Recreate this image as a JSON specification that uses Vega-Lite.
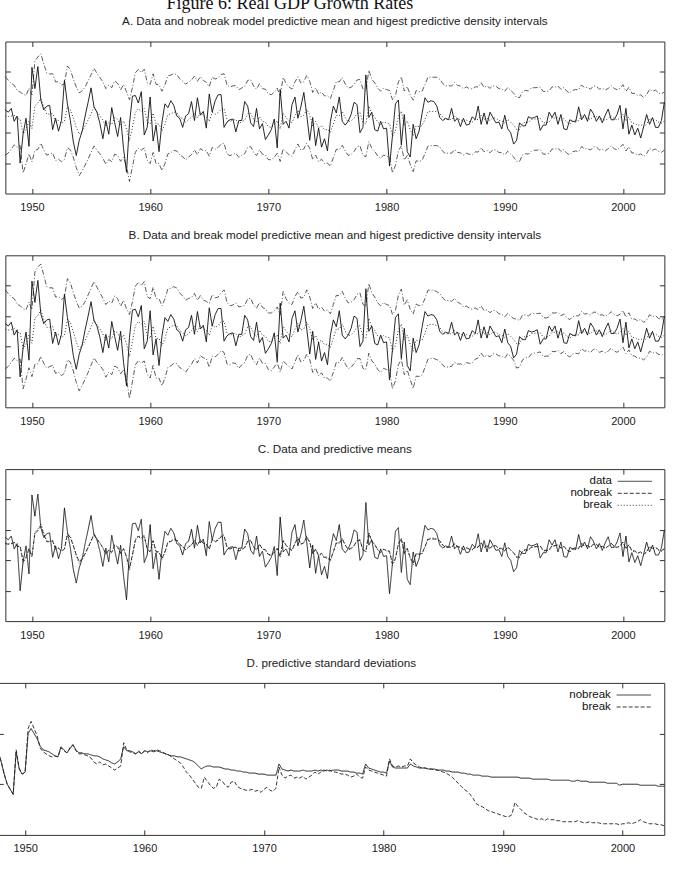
{
"$schema": "https://vega.github.io/schema/vega-lite/v6.json",
"padding": {"top": -5.5, "left": -5, "right": 0, "bottom": 0},
"title": {"text": "Figure 6: Real GDP Growth Rates", "font": "Liberation Serif", "fontSize": 18, "fontWeight": "normal", "color": "#111", "anchor": "middle", "dx": -45, "offset": -11.5, "baseline": "alphabetic"},
"config": {
  "font": "Liberation Sans",
  "view": {"stroke": "#333", "strokeWidth": 1},
  "title": {"fontSize": 11.7, "fontWeight": "normal", "color": "#222", "offset": 13, "baseline": "alphabetic", "font": "Liberation Sans"},
  "axis": {"domain": false, "grid": false, "tickSize": -5, "tickColor": "#333", "labelFontSize": 11, "labelColor": "#222", "labelPadding": 13, "title": null, "labelFont": "Liberation Sans", "minExtent": 0, "maxExtent": 0},
  "line": {"color": "#222", "strokeWidth": 0.9}
},
"columns": 1,
"center": true,
"spacing": 14.8,
"resolve": {"scale": {"strokeDash": "independent"}, "legend": {"strokeDash": "independent"}},
"datasets": {"gdp": [
{"t":1947.75,"data":1.5,"nobreak":1.1,"break":1.13,"nu":3.69,"nl":-1.49,"bu":3.72,"bl":-1.46,"sdn":1.32,"sdb":1.32},
{"t":1948,"data":1.35,"nobreak":1.06,"break":1.08,"nu":3.45,"nl":-1.33,"bu":3.47,"bl":-1.31,"sdn":1.22,"sdb":1.22},
{"t":1948.25,"data":1.6,"nobreak":1.09,"break":1.11,"nu":3.25,"nl":-1.07,"bu":3.27,"bl":-1.05,"sdn":1.1,"sdb":1.1},
{"t":1948.5,"data":0.75,"nobreak":1.16,"break":1.19,"nu":3.12,"nl":-0.8,"bu":3.15,"bl":-0.77,"sdn":1.0,"sdb":1.0},
{"t":1948.75,"data":1.1,"nobreak":0.91,"break":0.92,"nu":2.77,"nl":-0.95,"bu":2.78,"bl":-0.94,"sdn":0.95,"sdb":0.95},
{"t":1949,"data":-2.0,"nobreak":0.92,"break":0.93,"nu":2.68,"nl":-0.84,"bu":2.69,"bl":-0.83,"sdn":0.9,"sdb":0.9},
{"t":1949.25,"data":-0.1,"nobreak":-0.06,"break":-0.15,"nu":2.53,"nl":-2.65,"bu":2.48,"bl":-2.78,"sdn":1.32,"sdb":1.34},
{"t":1949.5,"data":0.95,"nobreak":0.2,"break":0.14,"nu":2.45,"nl":-2.05,"bu":2.41,"bl":-2.13,"sdn":1.15,"sdb":1.16},
{"t":1949.75,"data":-0.9,"nobreak":0.77,"break":0.76,"nu":2.93,"nl":-1.39,"bu":2.92,"bl":-1.4,"sdn":1.1,"sdb":1.1},
{"t":1950,"data":4.3,"nobreak":0.28,"break":0.22,"nu":2.48,"nl":-1.92,"bu":2.42,"bl":-1.98,"sdn":1.12,"sdb":1.12},
{"t":1950.25,"data":2.9,"nobreak":1.78,"break":1.87,"nu":4.72,"nl":-1.16,"bu":4.91,"bl":-1.17,"sdn":1.5,"sdb":1.55},
{"t":1950.5,"data":4.35,"nobreak":1.94,"break":2.05,"nu":4.98,"nl":-1.1,"bu":5.23,"bl":-1.13,"sdn":1.55,"sdb":1.62},
{"t":1950.75,"data":2.15,"nobreak":2.25,"break":2.39,"nu":5.19,"nl":-0.69,"bu":5.43,"bl":-0.65,"sdn":1.5,"sdb":1.55},
{"t":1951,"data":1.5,"nobreak":1.7,"break":1.79,"nu":4.54,"nl":-1.14,"bu":4.69,"bl":-1.11,"sdn":1.45,"sdb":1.48},
{"t":1951.25,"data":1.75,"nobreak":1.22,"break":1.26,"nu":3.92,"nl":-1.48,"bu":3.93,"bl":-1.41,"sdn":1.38,"sdb":1.36},
{"t":1951.5,"data":1.8,"nobreak":1.23,"break":1.27,"nu":3.86,"nl":-1.4,"bu":3.86,"bl":-1.32,"sdn":1.34,"sdb":1.32},
{"t":1951.75,"data":0.2,"nobreak":1.27,"break":1.31,"nu":3.88,"nl":-1.34,"bu":3.86,"bl":-1.24,"sdn":1.33,"sdb":1.3},
{"t":1952,"data":0.95,"nobreak":0.75,"break":0.74,"nu":3.34,"nl":-1.84,"bu":3.25,"bl":-1.77,"sdn":1.32,"sdb":1.28},
{"t":1952.25,"data":0.1,"nobreak":0.8,"break":0.8,"nu":3.35,"nl":-1.75,"bu":3.29,"bl":-1.69,"sdn":1.3,"sdb":1.27},
{"t":1952.5,"data":0.8,"nobreak":0.61,"break":0.59,"nu":3.12,"nl":-1.9,"bu":3.1,"bl":-1.92,"sdn":1.28,"sdb":1.28},
{"t":1952.75,"data":3.45,"nobreak":0.74,"break":0.73,"nu":3.23,"nl":-1.75,"bu":3.22,"bl":-1.76,"sdn":1.27,"sdb":1.27},
{"t":1953,"data":1.9,"nobreak":1.7,"break":1.79,"nu":4.39,"nl":-0.99,"bu":4.46,"bl":-0.88,"sdn":1.37,"sdb":1.36},
{"t":1953.25,"data":0.8,"nobreak":1.51,"break":1.58,"nu":4.14,"nl":-1.12,"bu":4.19,"bl":-1.03,"sdn":1.34,"sdb":1.33},
{"t":1953.5,"data":-0.6,"nobreak":0.96,"break":0.97,"nu":3.53,"nl":-1.61,"bu":3.54,"bl":-1.6,"sdn":1.31,"sdb":1.31},
{"t":1953.75,"data":-1.5,"nobreak":0.36,"break":0.31,"nu":3.01,"nl":-2.29,"bu":2.98,"bl":-2.36,"sdn":1.35,"sdb":1.36},
{"t":1954,"data":-0.5,"nobreak":-0.1,"break":-0.2,"nu":2.62,"nl":-2.82,"bu":2.52,"bl":-2.92,"sdn":1.39,"sdb":1.39},
{"t":1954.25,"data":0.1,"nobreak":0.12,"break":0.05,"nu":2.75,"nl":-2.51,"bu":2.66,"bl":-2.56,"sdn":1.34,"sdb":1.33},
{"t":1954.5,"data":1.1,"nobreak":0.44,"break":0.4,"nu":3.01,"nl":-2.13,"bu":2.95,"bl":-2.15,"sdn":1.31,"sdb":1.3},
{"t":1954.75,"data":2.0,"nobreak":0.84,"break":0.84,"nu":3.41,"nl":-1.73,"bu":3.39,"bl":-1.71,"sdn":1.31,"sdb":1.3},
{"t":1955,"data":2.95,"nobreak":1.26,"break":1.3,"nu":3.81,"nl":-1.29,"bu":3.83,"bl":-1.23,"sdn":1.3,"sdb":1.29},
{"t":1955.25,"data":1.7,"nobreak":1.68,"break":1.76,"nu":4.23,"nl":-0.87,"bu":4.27,"bl":-0.75,"sdn":1.3,"sdb":1.28},
{"t":1955.5,"data":1.35,"nobreak":1.38,"break":1.43,"nu":3.91,"nl":-1.15,"bu":3.9,"bl":-1.04,"sdn":1.29,"sdb":1.26},
{"t":1955.75,"data":0.6,"nobreak":1.12,"break":1.15,"nu":3.63,"nl":-1.39,"bu":3.54,"bl":-1.24,"sdn":1.28,"sdb":1.22},
{"t":1956,"data":-0.4,"nobreak":0.83,"break":0.83,"nu":3.34,"nl":-1.68,"bu":3.18,"bl":-1.52,"sdn":1.28,"sdb":1.2},
{"t":1956.25,"data":0.8,"nobreak":0.41,"break":0.37,"nu":2.9,"nl":-2.08,"bu":2.76,"bl":-2.02,"sdn":1.27,"sdb":1.22},
{"t":1956.5,"data":-0.1,"nobreak":0.68,"break":0.66,"nu":3.13,"nl":-1.77,"bu":2.99,"bl":-1.67,"sdn":1.25,"sdb":1.19},
{"t":1956.75,"data":1.65,"nobreak":0.53,"break":0.5,"nu":2.96,"nl":-1.9,"bu":2.85,"bl":-1.85,"sdn":1.24,"sdb":1.2},
{"t":1957,"data":0.65,"nobreak":1.0,"break":1.02,"nu":3.41,"nl":-1.41,"bu":3.33,"bl":-1.29,"sdn":1.23,"sdb":1.18},
{"t":1957.25,"data":-0.25,"nobreak":0.88,"break":0.88,"nu":3.25,"nl":-1.49,"bu":3.15,"bl":-1.39,"sdn":1.21,"sdb":1.16},
{"t":1957.5,"data":1.0,"nobreak":0.47,"break":0.43,"nu":2.82,"nl":-1.88,"bu":2.66,"bl":-1.8,"sdn":1.2,"sdb":1.14},
{"t":1957.75,"data":-1.05,"nobreak":0.77,"break":0.76,"nu":3.16,"nl":-1.62,"bu":3.03,"bl":-1.51,"sdn":1.22,"sdb":1.16},
{"t":1958,"data":-2.6,"nobreak":0.24,"break":0.18,"nu":2.69,"nl":-2.21,"bu":2.49,"bl":-2.13,"sdn":1.25,"sdb":1.18},
{"t":1958.25,"data":0.6,"nobreak":-0.52,"break":-0.66,"nu":2.17,"nl":-3.21,"bu":2.1,"bl":-3.42,"sdn":1.37,"sdb":1.41},
{"t":1958.5,"data":2.4,"nobreak":0.36,"break":0.31,"nu":2.97,"nl":-2.25,"bu":2.94,"bl":-2.32,"sdn":1.33,"sdb":1.34},
{"t":1958.75,"data":2.45,"nobreak":1.33,"break":1.38,"nu":3.94,"nl":-1.28,"bu":3.97,"bl":-1.21,"sdn":1.33,"sdb":1.32},
{"t":1959,"data":1.95,"nobreak":1.57,"break":1.64,"nu":4.16,"nl":-1.02,"bu":4.21,"bl":-0.93,"sdn":1.32,"sdb":1.31},
{"t":1959.25,"data":2.7,"nobreak":1.4,"break":1.46,"nu":3.95,"nl":-1.15,"bu":4.01,"bl":-1.09,"sdn":1.3,"sdb":1.3},
{"t":1959.5,"data":-0.15,"nobreak":1.59,"break":1.66,"nu":4.18,"nl":-1.0,"bu":4.27,"bl":-0.95,"sdn":1.32,"sdb":1.33},
{"t":1959.75,"data":0.35,"nobreak":0.74,"break":0.73,"nu":3.29,"nl":-1.81,"bu":3.28,"bl":-1.82,"sdn":1.3,"sdb":1.3},
{"t":1960,"data":2.35,"nobreak":0.57,"break":0.54,"nu":3.18,"nl":-2.04,"bu":3.15,"bl":-2.07,"sdn":1.33,"sdb":1.33},
{"t":1960.25,"data":-0.55,"nobreak":1.29,"break":1.33,"nu":3.88,"nl":-1.3,"bu":3.9,"bl":-1.24,"sdn":1.32,"sdb":1.31},
{"t":1960.5,"data":0.5,"nobreak":0.57,"break":0.54,"nu":3.18,"nl":-2.04,"bu":3.17,"bl":-2.09,"sdn":1.33,"sdb":1.34},
{"t":1960.75,"data":-1.25,"nobreak":0.56,"break":0.53,"nu":3.15,"nl":-2.03,"bu":3.14,"bl":-2.08,"sdn":1.32,"sdb":1.33},
{"t":1961,"data":0.7,"nobreak":0.12,"break":0.05,"nu":2.73,"nl":-2.49,"bu":2.68,"bl":-2.58,"sdn":1.33,"sdb":1.34},
{"t":1961.25,"data":1.9,"nobreak":0.55,"break":0.52,"nu":3.14,"nl":-2.04,"bu":3.13,"bl":-2.09,"sdn":1.32,"sdb":1.33},
{"t":1961.5,"data":1.65,"nobreak":1.18,"break":1.21,"nu":3.75,"nl":-1.39,"bu":3.8,"bl":-1.38,"sdn":1.31,"sdb":1.32},
{"t":1961.75,"data":2.1,"nobreak":1.24,"break":1.28,"nu":3.79,"nl":-1.31,"bu":3.83,"bl":-1.27,"sdn":1.3,"sdb":1.3},
{"t":1962,"data":1.8,"nobreak":1.36,"break":1.41,"nu":3.89,"nl":-1.17,"bu":3.94,"bl":-1.12,"sdn":1.29,"sdb":1.29},
{"t":1962.25,"data":1.1,"nobreak":1.31,"break":1.36,"nu":3.82,"nl":-1.2,"bu":3.85,"bl":-1.13,"sdn":1.28,"sdb":1.27},
{"t":1962.5,"data":0.95,"nobreak":1.04,"break":1.06,"nu":3.55,"nl":-1.47,"bu":3.51,"bl":-1.39,"sdn":1.28,"sdb":1.25},
{"t":1962.75,"data":0.35,"nobreak":0.91,"break":0.92,"nu":3.4,"nl":-1.58,"bu":3.33,"bl":-1.49,"sdn":1.27,"sdb":1.23},
{"t":1963,"data":1.1,"nobreak":0.7,"break":0.68,"nu":3.19,"nl":-1.79,"bu":3.05,"bl":-1.69,"sdn":1.27,"sdb":1.21},
{"t":1963.25,"data":1.25,"nobreak":0.87,"break":0.87,"nu":3.34,"nl":-1.6,"bu":3.16,"bl":-1.42,"sdn":1.26,"sdb":1.17},
{"t":1963.5,"data":2.05,"nobreak":1.01,"break":1.03,"nu":3.46,"nl":-1.44,"bu":3.23,"bl":-1.17,"sdn":1.25,"sdb":1.12},
{"t":1963.75,"data":0.8,"nobreak":1.3,"break":1.35,"nu":3.73,"nl":-1.13,"bu":3.49,"bl":-0.79,"sdn":1.24,"sdb":1.09},
{"t":1964,"data":2.3,"nobreak":0.97,"break":0.98,"nu":3.38,"nl":-1.44,"bu":3.04,"bl":-1.08,"sdn":1.23,"sdb":1.05},
{"t":1964.25,"data":1.15,"nobreak":1.32,"break":1.37,"nu":3.69,"nl":-1.05,"bu":3.35,"bl":-0.61,"sdn":1.21,"sdb":1.01},
{"t":1964.5,"data":1.4,"nobreak":1.12,"break":1.15,"nu":3.43,"nl":-1.19,"bu":3.05,"bl":-0.75,"sdn":1.18,"sdb":0.97},
{"t":1964.75,"data":0.3,"nobreak":1.07,"break":1.09,"nu":3.32,"nl":-1.18,"bu":2.97,"bl":-0.79,"sdn":1.15,"sdb":0.96},
{"t":1965,"data":2.55,"nobreak":0.74,"break":0.73,"nu":3.03,"nl":-1.55,"bu":2.83,"bl":-1.37,"sdn":1.17,"sdb":1.07},
{"t":1965.25,"data":1.35,"nobreak":1.34,"break":1.39,"nu":3.65,"nl":-0.97,"bu":3.41,"bl":-0.63,"sdn":1.18,"sdb":1.03},
{"t":1965.5,"data":2.1,"nobreak":1.22,"break":1.26,"nu":3.53,"nl":-1.09,"bu":3.2,"bl":-0.68,"sdn":1.18,"sdb":0.99},
{"t":1965.75,"data":2.5,"nobreak":1.32,"break":1.37,"nu":3.61,"nl":-0.97,"bu":3.25,"bl":-0.51,"sdn":1.17,"sdb":0.96},
{"t":1966,"data":2.5,"nobreak":1.54,"break":1.62,"nu":3.83,"nl":-0.75,"bu":3.52,"bl":-0.28,"sdn":1.17,"sdb":0.97},
{"t":1966.25,"data":0.35,"nobreak":1.59,"break":1.67,"nu":3.88,"nl":-0.7,"bu":3.73,"bl":-0.39,"sdn":1.17,"sdb":1.05},
{"t":1966.5,"data":0.7,"nobreak":0.88,"break":0.88,"nu":3.15,"nl":-1.39,"bu":2.9,"bl":-1.14,"sdn":1.16,"sdb":1.03},
{"t":1966.75,"data":0.85,"nobreak":0.74,"break":0.73,"nu":2.99,"nl":-1.51,"bu":2.67,"bl":-1.21,"sdn":1.15,"sdb":0.99},
{"t":1967,"data":0.9,"nobreak":0.83,"break":0.83,"nu":3.08,"nl":-1.42,"bu":2.73,"bl":-1.07,"sdn":1.15,"sdb":0.97},
{"t":1967.25,"data":0.05,"nobreak":0.87,"break":0.87,"nu":3.1,"nl":-1.36,"bu":2.87,"bl":-1.13,"sdn":1.14,"sdb":1.02},
{"t":1967.5,"data":0.8,"nobreak":0.6,"break":0.58,"nu":2.83,"nl":-1.63,"bu":2.6,"bl":-1.44,"sdn":1.14,"sdb":1.03},
{"t":1967.75,"data":0.8,"nobreak":0.73,"break":0.72,"nu":2.94,"nl":-1.48,"bu":2.64,"bl":-1.2,"sdn":1.13,"sdb":0.98},
{"t":1968,"data":2.05,"nobreak":0.83,"break":0.83,"nu":3.04,"nl":-1.38,"bu":2.71,"bl":-1.05,"sdn":1.13,"sdb":0.96},
{"t":1968.25,"data":1.75,"nobreak":1.24,"break":1.28,"nu":3.44,"nl":-0.96,"bu":3.14,"bl":-0.58,"sdn":1.12,"sdb":0.95},
{"t":1968.5,"data":0.65,"nobreak":1.29,"break":1.33,"nu":3.49,"nl":-0.91,"bu":3.17,"bl":-0.51,"sdn":1.12,"sdb":0.94},
{"t":1968.75,"data":0.4,"nobreak":0.89,"break":0.89,"nu":3.07,"nl":-1.29,"bu":2.73,"bl":-0.95,"sdn":1.11,"sdb":0.94},
{"t":1969,"data":1.6,"nobreak":0.68,"break":0.66,"nu":2.86,"nl":-1.5,"bu":2.52,"bl":-1.2,"sdn":1.11,"sdb":0.95},
{"t":1969.25,"data":0.25,"nobreak":1.05,"break":1.07,"nu":3.23,"nl":-1.13,"bu":2.89,"bl":-0.75,"sdn":1.11,"sdb":0.93},
{"t":1969.5,"data":0.6,"nobreak":0.74,"break":0.73,"nu":2.9,"nl":-1.42,"bu":2.57,"bl":-1.11,"sdn":1.1,"sdb":0.94},
{"t":1969.75,"data":-0.45,"nobreak":0.7,"break":0.68,"nu":2.86,"nl":-1.46,"bu":2.48,"bl":-1.12,"sdn":1.1,"sdb":0.92},
{"t":1970,"data":-0.15,"nobreak":0.39,"break":0.34,"nu":2.55,"nl":-1.77,"bu":2.2,"bl":-1.52,"sdn":1.1,"sdb":0.95},
{"t":1970.25,"data":0.2,"nobreak":0.36,"break":0.31,"nu":2.5,"nl":-1.78,"bu":2.21,"bl":-1.59,"sdn":1.09,"sdb":0.97},
{"t":1970.5,"data":0.9,"nobreak":0.52,"break":0.49,"nu":2.66,"nl":-1.62,"bu":2.33,"bl":-1.35,"sdn":1.09,"sdb":0.94},
{"t":1970.75,"data":-1.0,"nobreak":0.79,"break":0.78,"nu":2.93,"nl":-1.35,"bu":2.6,"bl":-1.04,"sdn":1.09,"sdb":0.93},
{"t":1971,"data":2.85,"nobreak":0.25,"break":0.19,"nu":2.39,"nl":-1.89,"bu":2.07,"bl":-1.69,"sdn":1.09,"sdb":0.96},
{"t":1971.25,"data":0.55,"nobreak":1.29,"break":1.33,"nu":3.64,"nl":-1.06,"bu":3.62,"bl":-0.96,"sdn":1.2,"sdb":1.17},
{"t":1971.5,"data":0.75,"nobreak":0.99,"break":1.0,"nu":3.24,"nl":-1.26,"bu":3.14,"bl":-1.14,"sdn":1.15,"sdb":1.09},
{"t":1971.75,"data":0.3,"nobreak":0.78,"break":0.77,"nu":3.01,"nl":-1.45,"bu":2.85,"bl":-1.31,"sdn":1.14,"sdb":1.06},
{"t":1972,"data":1.85,"nobreak":0.66,"break":0.64,"nu":2.87,"nl":-1.55,"bu":2.76,"bl":-1.48,"sdn":1.13,"sdb":1.08},
{"t":1972.25,"data":2.35,"nobreak":1.11,"break":1.14,"nu":3.34,"nl":-1.12,"bu":3.28,"bl":-1.0,"sdn":1.14,"sdb":1.09},
{"t":1972.5,"data":0.95,"nobreak":1.47,"break":1.53,"nu":3.68,"nl":-0.74,"bu":3.61,"bl":-0.55,"sdn":1.13,"sdb":1.06},
{"t":1972.75,"data":1.7,"nobreak":1.06,"break":1.08,"nu":3.27,"nl":-1.15,"bu":3.18,"bl":-1.02,"sdn":1.13,"sdb":1.07},
{"t":1973,"data":2.65,"nobreak":1.14,"break":1.17,"nu":3.35,"nl":-1.07,"bu":3.25,"bl":-0.91,"sdn":1.13,"sdb":1.06},
{"t":1973.25,"data":1.15,"nobreak":1.54,"break":1.61,"nu":3.77,"nl":-0.69,"bu":3.73,"bl":-0.51,"sdn":1.14,"sdb":1.08},
{"t":1973.5,"data":-0.5,"nobreak":1.17,"break":1.2,"nu":3.38,"nl":-1.04,"bu":3.26,"bl":-0.86,"sdn":1.13,"sdb":1.05},
{"t":1973.75,"data":1.0,"nobreak":0.44,"break":0.4,"nu":2.65,"nl":-1.77,"bu":2.5,"bl":-1.7,"sdn":1.13,"sdb":1.07},
{"t":1974,"data":-0.85,"nobreak":0.74,"break":0.73,"nu":2.95,"nl":-1.47,"bu":2.87,"bl":-1.41,"sdn":1.13,"sdb":1.09},
{"t":1974.25,"data":0.3,"nobreak":0.31,"break":0.26,"nu":2.54,"nl":-1.92,"bu":2.46,"bl":-1.94,"sdn":1.14,"sdb":1.12},
{"t":1974.5,"data":-0.95,"nobreak":0.47,"break":0.43,"nu":2.68,"nl":-1.74,"bu":2.59,"bl":-1.73,"sdn":1.13,"sdb":1.1},
{"t":1974.75,"data":-0.4,"nobreak":0.19,"break":0.12,"nu":2.42,"nl":-2.04,"bu":2.32,"bl":-2.08,"sdn":1.14,"sdb":1.12},
{"t":1975,"data":-1.2,"nobreak":0.22,"break":0.16,"nu":2.43,"nl":-1.99,"bu":2.39,"bl":-2.07,"sdn":1.13,"sdb":1.14},
{"t":1975.25,"data":0.75,"nobreak":0.02,"break":-0.06,"nu":2.25,"nl":-2.21,"bu":2.15,"bl":-2.27,"sdn":1.14,"sdb":1.13},
{"t":1975.5,"data":1.75,"nobreak":0.57,"break":0.54,"nu":2.78,"nl":-1.64,"bu":2.77,"bl":-1.69,"sdn":1.13,"sdb":1.14},
{"t":1975.75,"data":1.3,"nobreak":1.14,"break":1.17,"nu":3.37,"nl":-1.09,"bu":3.37,"bl":-1.03,"sdn":1.14,"sdb":1.12},
{"t":1976,"data":2.35,"nobreak":1.11,"break":1.14,"nu":3.34,"nl":-1.12,"bu":3.34,"bl":-1.06,"sdn":1.14,"sdb":1.12},
{"t":1976.25,"data":0.75,"nobreak":1.4,"break":1.46,"nu":3.63,"nl":-0.83,"bu":3.64,"bl":-0.72,"sdn":1.14,"sdb":1.11},
{"t":1976.5,"data":0.5,"nobreak":1.0,"break":1.02,"nu":3.21,"nl":-1.21,"bu":3.18,"bl":-1.14,"sdn":1.13,"sdb":1.1},
{"t":1976.75,"data":0.75,"nobreak":0.72,"break":0.71,"nu":2.93,"nl":-1.49,"bu":2.87,"bl":-1.45,"sdn":1.13,"sdb":1.1},
{"t":1977,"data":1.2,"nobreak":0.78,"break":0.77,"nu":2.99,"nl":-1.43,"bu":2.91,"bl":-1.37,"sdn":1.13,"sdb":1.09},
{"t":1977.25,"data":2.0,"nobreak":0.96,"break":0.97,"nu":3.16,"nl":-1.24,"bu":3.07,"bl":-1.13,"sdn":1.12,"sdb":1.07},
{"t":1977.5,"data":1.85,"nobreak":1.27,"break":1.31,"nu":3.47,"nl":-0.93,"bu":3.43,"bl":-0.81,"sdn":1.12,"sdb":1.08},
{"t":1977.75,"data":0.0,"nobreak":1.32,"break":1.37,"nu":3.5,"nl":-0.86,"bu":3.53,"bl":-0.79,"sdn":1.11,"sdb":1.1},
{"t":1978,"data":0.35,"nobreak":0.69,"break":0.67,"nu":2.87,"nl":-1.49,"bu":2.77,"bl":-1.43,"sdn":1.11,"sdb":1.07},
{"t":1978.25,"data":3.8,"nobreak":0.58,"break":0.55,"nu":2.74,"nl":-1.58,"bu":2.63,"bl":-1.53,"sdn":1.1,"sdb":1.06},
{"t":1978.5,"data":1.0,"nobreak":1.76,"break":1.85,"nu":4.11,"nl":-0.59,"bu":4.14,"bl":-0.44,"sdn":1.2,"sdb":1.17},
{"t":1978.75,"data":1.35,"nobreak":1.25,"break":1.29,"nu":3.52,"nl":-1.02,"bu":3.52,"bl":-0.94,"sdn":1.16,"sdb":1.14},
{"t":1979,"data":0.2,"nobreak":1.03,"break":1.05,"nu":3.28,"nl":-1.22,"bu":3.26,"bl":-1.16,"sdn":1.15,"sdb":1.13},
{"t":1979.25,"data":0.1,"nobreak":0.7,"break":0.68,"nu":2.93,"nl":-1.53,"bu":2.88,"bl":-1.52,"sdn":1.14,"sdb":1.12},
{"t":1979.5,"data":0.75,"nobreak":0.52,"break":0.49,"nu":2.73,"nl":-1.69,"bu":2.67,"bl":-1.69,"sdn":1.13,"sdb":1.11},
{"t":1979.75,"data":0.25,"nobreak":0.73,"break":0.72,"nu":2.93,"nl":-1.47,"bu":2.88,"bl":-1.44,"sdn":1.12,"sdb":1.1},
{"t":1980,"data":0.3,"nobreak":0.64,"break":0.62,"nu":2.84,"nl":-1.56,"bu":2.76,"bl":-1.52,"sdn":1.12,"sdb":1.09},
{"t":1980.25,"data":-2.2,"nobreak":0.6,"break":0.58,"nu":2.78,"nl":-1.58,"bu":2.7,"bl":-1.54,"sdn":1.11,"sdb":1.08},
{"t":1980.5,"data":-0.2,"nobreak":-0.23,"break":-0.34,"nu":2.18,"nl":-2.64,"bu":2.11,"bl":-2.79,"sdn":1.23,"sdb":1.25},
{"t":1980.75,"data":1.9,"nobreak":0.13,"break":0.06,"nu":2.42,"nl":-2.16,"bu":2.37,"bl":-2.25,"sdn":1.17,"sdb":1.18},
{"t":1981,"data":2.15,"nobreak":1.07,"break":1.09,"nu":3.34,"nl":-1.2,"bu":3.38,"bl":-1.2,"sdn":1.16,"sdb":1.17},
{"t":1981.25,"data":-0.8,"nobreak":1.41,"break":1.47,"nu":3.68,"nl":-0.86,"bu":3.78,"bl":-0.84,"sdn":1.16,"sdb":1.18},
{"t":1981.5,"data":1.2,"nobreak":0.47,"break":0.43,"nu":2.74,"nl":-1.8,"bu":2.72,"bl":-1.86,"sdn":1.16,"sdb":1.17},
{"t":1981.75,"data":-1.25,"nobreak":0.77,"break":0.76,"nu":3.04,"nl":-1.5,"bu":3.07,"bl":-1.55,"sdn":1.16,"sdb":1.18},
{"t":1982,"data":-1.6,"nobreak":0.2,"break":0.14,"nu":2.47,"nl":-2.07,"bu":2.45,"bl":-2.17,"sdn":1.16,"sdb":1.18},
{"t":1982.25,"data":0.55,"nobreak":-0.21,"break":-0.32,"nu":2.14,"nl":-2.56,"bu":2.13,"bl":-2.77,"sdn":1.2,"sdb":1.25},
{"t":1982.5,"data":-0.4,"nobreak":0.46,"break":0.42,"nu":2.77,"nl":-1.85,"bu":2.79,"bl":-1.95,"sdn":1.18,"sdb":1.21},
{"t":1982.75,"data":0.1,"nobreak":0.4,"break":0.36,"nu":2.69,"nl":-1.89,"bu":2.69,"bl":-1.97,"sdn":1.17,"sdb":1.19},
{"t":1983,"data":1.25,"nobreak":0.45,"break":0.41,"nu":2.72,"nl":-1.82,"bu":2.7,"bl":-1.88,"sdn":1.16,"sdb":1.17},
{"t":1983.25,"data":2.3,"nobreak":0.89,"break":0.89,"nu":3.16,"nl":-1.38,"bu":3.16,"bl":-1.38,"sdn":1.16,"sdb":1.16},
{"t":1983.5,"data":2.0,"nobreak":1.38,"break":1.43,"nu":3.65,"nl":-0.89,"bu":3.7,"bl":-0.84,"sdn":1.16,"sdb":1.16},
{"t":1983.75,"data":2.1,"nobreak":1.4,"break":1.46,"nu":3.65,"nl":-0.85,"bu":3.71,"bl":-0.79,"sdn":1.15,"sdb":1.15},
{"t":1984,"data":2.05,"nobreak":1.4,"break":1.46,"nu":3.65,"nl":-0.85,"bu":3.71,"bl":-0.79,"sdn":1.15,"sdb":1.15},
{"t":1984.25,"data":1.75,"nobreak":1.4,"break":1.37,"nu":3.65,"nl":-0.85,"bu":3.6,"bl":-0.86,"sdn":1.15,"sdb":1.14},
{"t":1984.5,"data":1.0,"nobreak":1.29,"break":1.26,"nu":3.52,"nl":-0.94,"bu":3.49,"bl":-0.97,"sdn":1.14,"sdb":1.14},
{"t":1984.75,"data":0.8,"nobreak":1.01,"break":0.98,"nu":3.24,"nl":-1.22,"bu":3.19,"bl":-1.23,"sdn":1.14,"sdb":1.13},
{"t":1985,"data":0.95,"nobreak":0.85,"break":0.82,"nu":3.08,"nl":-1.38,"bu":3.02,"bl":-1.38,"sdn":1.14,"sdb":1.12},
{"t":1985.25,"data":0.85,"nobreak":0.88,"break":0.85,"nu":3.09,"nl":-1.33,"bu":3.03,"bl":-1.33,"sdn":1.13,"sdb":1.11},
{"t":1985.5,"data":1.6,"nobreak":0.86,"break":0.83,"nu":3.07,"nl":-1.35,"bu":2.97,"bl":-1.31,"sdn":1.13,"sdb":1.09},
{"t":1985.75,"data":0.75,"nobreak":1.1,"break":1.07,"nu":3.3,"nl":-1.1,"bu":3.17,"bl":-1.03,"sdn":1.12,"sdb":1.07},
{"t":1986,"data":0.95,"nobreak":0.91,"break":0.88,"nu":3.11,"nl":-1.29,"bu":2.92,"bl":-1.16,"sdn":1.12,"sdb":1.04},
{"t":1986.25,"data":0.4,"nobreak":0.87,"break":0.84,"nu":3.07,"nl":-1.33,"bu":2.82,"bl":-1.14,"sdn":1.12,"sdb":1.01},
{"t":1986.5,"data":0.95,"nobreak":0.71,"break":0.68,"nu":2.89,"nl":-1.47,"bu":2.6,"bl":-1.24,"sdn":1.11,"sdb":0.98},
{"t":1986.75,"data":0.5,"nobreak":0.83,"break":0.8,"nu":3.01,"nl":-1.35,"bu":2.66,"bl":-1.06,"sdn":1.11,"sdb":0.95},
{"t":1987,"data":0.55,"nobreak":0.74,"break":0.71,"nu":2.9,"nl":-1.42,"bu":2.53,"bl":-1.11,"sdn":1.1,"sdb":0.93},
{"t":1987.25,"data":1.05,"nobreak":0.71,"break":0.68,"nu":2.87,"nl":-1.45,"bu":2.44,"bl":-1.08,"sdn":1.1,"sdb":0.9},
{"t":1987.5,"data":0.85,"nobreak":0.88,"break":0.85,"nu":3.02,"nl":-1.26,"bu":2.54,"bl":-0.84,"sdn":1.09,"sdb":0.86},
{"t":1987.75,"data":1.75,"nobreak":0.87,"break":0.84,"nu":3.01,"nl":-1.27,"bu":2.43,"bl":-0.75,"sdn":1.09,"sdb":0.81},
{"t":1988,"data":0.55,"nobreak":1.15,"break":1.12,"nu":3.29,"nl":-0.99,"bu":2.67,"bl":-0.43,"sdn":1.09,"sdb":0.79},
{"t":1988.25,"data":1.3,"nobreak":0.86,"break":0.83,"nu":2.98,"nl":-1.26,"bu":2.36,"bl":-0.7,"sdn":1.08,"sdb":0.78},
{"t":1988.5,"data":0.55,"nobreak":0.96,"break":0.93,"nu":3.08,"nl":-1.16,"bu":2.42,"bl":-0.56,"sdn":1.08,"sdb":0.76},
{"t":1988.75,"data":1.35,"nobreak":0.8,"break":0.77,"nu":2.92,"nl":-1.32,"bu":2.22,"bl":-0.68,"sdn":1.08,"sdb":0.74},
{"t":1989,"data":1.0,"nobreak":0.98,"break":0.95,"nu":3.08,"nl":-1.12,"bu":2.38,"bl":-0.48,"sdn":1.07,"sdb":0.73},
{"t":1989.25,"data":0.65,"nobreak":0.96,"break":0.93,"nu":3.06,"nl":-1.14,"bu":2.34,"bl":-0.48,"sdn":1.07,"sdb":0.72},
{"t":1989.5,"data":0.7,"nobreak":0.8,"break":0.77,"nu":2.9,"nl":-1.3,"bu":2.16,"bl":-0.62,"sdn":1.07,"sdb":0.71},
{"t":1989.75,"data":0.25,"nobreak":0.78,"break":0.75,"nu":2.88,"nl":-1.32,"bu":2.12,"bl":-0.62,"sdn":1.07,"sdb":0.7},
{"t":1990,"data":1.15,"nobreak":0.63,"break":0.6,"nu":2.73,"nl":-1.47,"bu":1.95,"bl":-0.75,"sdn":1.07,"sdb":0.69},
{"t":1990.25,"data":0.25,"nobreak":0.88,"break":0.85,"nu":2.98,"nl":-1.22,"bu":2.18,"bl":-0.48,"sdn":1.07,"sdb":0.68},
{"t":1990.5,"data":0.0,"nobreak":0.69,"break":0.66,"nu":2.79,"nl":-1.41,"bu":1.99,"bl":-0.67,"sdn":1.07,"sdb":0.68},
{"t":1990.75,"data":-0.75,"nobreak":0.5,"break":0.47,"nu":2.6,"nl":-1.6,"bu":1.84,"bl":-0.9,"sdn":1.07,"sdb":0.7},
{"t":1991,"data":-0.5,"nobreak":0.22,"break":0.19,"nu":2.32,"nl":-1.88,"bu":1.8,"bl":-1.42,"sdn":1.07,"sdb":0.82},
{"t":1991.25,"data":0.65,"nobreak":0.21,"break":0.18,"nu":2.31,"nl":-1.89,"bu":1.71,"bl":-1.35,"sdn":1.07,"sdb":0.78},
{"t":1991.5,"data":0.45,"nobreak":0.62,"break":0.59,"nu":2.7,"nl":-1.46,"bu":2.06,"bl":-0.88,"sdn":1.06,"sdb":0.75},
{"t":1991.75,"data":0.45,"nobreak":0.7,"break":0.67,"nu":2.78,"nl":-1.38,"bu":2.08,"bl":-0.74,"sdn":1.06,"sdb":0.72},
{"t":1992,"data":1.05,"nobreak":0.67,"break":0.64,"nu":2.75,"nl":-1.41,"bu":2.01,"bl":-0.73,"sdn":1.06,"sdb":0.7},
{"t":1992.25,"data":0.95,"nobreak":0.87,"break":0.84,"nu":2.95,"nl":-1.21,"bu":2.17,"bl":-0.49,"sdn":1.06,"sdb":0.68},
{"t":1992.5,"data":1.0,"nobreak":0.9,"break":0.87,"nu":2.96,"nl":-1.16,"bu":2.18,"bl":-0.44,"sdn":1.05,"sdb":0.67},
{"t":1992.75,"data":1.1,"nobreak":0.91,"break":0.88,"nu":2.97,"nl":-1.15,"bu":2.17,"bl":-0.41,"sdn":1.05,"sdb":0.66},
{"t":1993,"data":0.15,"nobreak":0.95,"break":0.92,"nu":3.01,"nl":-1.11,"bu":2.19,"bl":-0.35,"sdn":1.05,"sdb":0.65},
{"t":1993.25,"data":0.5,"nobreak":0.65,"break":0.62,"nu":2.71,"nl":-1.41,"bu":1.91,"bl":-0.67,"sdn":1.05,"sdb":0.66},
{"t":1993.5,"data":0.5,"nobreak":0.65,"break":0.62,"nu":2.71,"nl":-1.41,"bu":1.87,"bl":-0.63,"sdn":1.05,"sdb":0.64},
{"t":1993.75,"data":1.35,"nobreak":0.69,"break":0.66,"nu":2.75,"nl":-1.37,"bu":1.95,"bl":-0.63,"sdn":1.05,"sdb":0.66},
{"t":1994,"data":1.0,"nobreak":0.97,"break":0.94,"nu":3.01,"nl":-1.07,"bu":2.21,"bl":-0.33,"sdn":1.04,"sdb":0.65},
{"t":1994.25,"data":1.35,"nobreak":0.96,"break":0.93,"nu":3.0,"nl":-1.08,"bu":2.2,"bl":-0.34,"sdn":1.04,"sdb":0.65},
{"t":1994.5,"data":0.55,"nobreak":1.03,"break":1.0,"nu":3.07,"nl":-1.01,"bu":2.25,"bl":-0.25,"sdn":1.04,"sdb":0.64},
{"t":1994.75,"data":1.2,"nobreak":0.81,"break":0.78,"nu":2.85,"nl":-1.23,"bu":2.03,"bl":-0.47,"sdn":1.04,"sdb":0.64},
{"t":1995,"data":0.25,"nobreak":0.93,"break":0.9,"nu":2.97,"nl":-1.11,"bu":2.13,"bl":-0.33,"sdn":1.04,"sdb":0.63},
{"t":1995.25,"data":0.2,"nobreak":0.69,"break":0.66,"nu":2.73,"nl":-1.35,"bu":1.89,"bl":-0.57,"sdn":1.04,"sdb":0.63},
{"t":1995.5,"data":0.85,"nobreak":0.57,"break":0.54,"nu":2.61,"nl":-1.47,"bu":1.77,"bl":-0.69,"sdn":1.04,"sdb":0.63},
{"t":1995.75,"data":0.75,"nobreak":0.77,"break":0.74,"nu":2.79,"nl":-1.25,"bu":1.97,"bl":-0.49,"sdn":1.03,"sdb":0.63},
{"t":1996,"data":0.7,"nobreak":0.82,"break":0.79,"nu":2.84,"nl":-1.2,"bu":2.02,"bl":-0.44,"sdn":1.03,"sdb":0.63},
{"t":1996.25,"data":1.7,"nobreak":0.79,"break":0.76,"nu":2.83,"nl":-1.25,"bu":2.01,"bl":-0.49,"sdn":1.04,"sdb":0.64},
{"t":1996.5,"data":0.85,"nobreak":1.11,"break":1.08,"nu":3.13,"nl":-0.91,"bu":2.31,"bl":-0.15,"sdn":1.03,"sdb":0.63},
{"t":1996.75,"data":1.2,"nobreak":0.95,"break":0.92,"nu":2.97,"nl":-1.07,"bu":2.14,"bl":-0.3,"sdn":1.03,"sdb":0.62},
{"t":1997,"data":0.75,"nobreak":0.97,"break":0.94,"nu":2.99,"nl":-1.05,"bu":2.16,"bl":-0.28,"sdn":1.03,"sdb":0.62},
{"t":1997.25,"data":1.55,"nobreak":0.86,"break":0.83,"nu":2.86,"nl":-1.14,"bu":2.06,"bl":-0.4,"sdn":1.02,"sdb":0.63},
{"t":1997.5,"data":1.25,"nobreak":1.07,"break":1.04,"nu":3.07,"nl":-0.93,"bu":2.26,"bl":-0.18,"sdn":1.02,"sdb":0.62},
{"t":1997.75,"data":0.75,"nobreak":1.06,"break":1.03,"nu":3.06,"nl":-0.94,"bu":2.25,"bl":-0.19,"sdn":1.02,"sdb":0.62},
{"t":1998,"data":1.1,"nobreak":0.87,"break":0.84,"nu":2.87,"nl":-1.13,"bu":2.06,"bl":-0.38,"sdn":1.02,"sdb":0.62},
{"t":1998.25,"data":0.65,"nobreak":0.92,"break":0.89,"nu":2.92,"nl":-1.08,"bu":2.09,"bl":-0.31,"sdn":1.02,"sdb":0.61},
{"t":1998.5,"data":1.15,"nobreak":0.81,"break":0.78,"nu":2.81,"nl":-1.19,"bu":1.98,"bl":-0.42,"sdn":1.02,"sdb":0.61},
{"t":1998.75,"data":1.55,"nobreak":0.93,"break":0.9,"nu":2.91,"nl":-1.05,"bu":2.1,"bl":-0.3,"sdn":1.01,"sdb":0.61},
{"t":1999,"data":0.85,"nobreak":1.12,"break":1.09,"nu":3.1,"nl":-0.86,"bu":2.29,"bl":-0.11,"sdn":1.01,"sdb":0.61},
{"t":1999.25,"data":0.85,"nobreak":0.93,"break":0.9,"nu":2.91,"nl":-1.05,"bu":2.1,"bl":-0.3,"sdn":1.01,"sdb":0.61},
{"t":1999.5,"data":1.2,"nobreak":0.85,"break":0.82,"nu":2.83,"nl":-1.13,"bu":2.02,"bl":-0.38,"sdn":1.01,"sdb":0.61},
{"t":1999.75,"data":1.8,"nobreak":0.97,"break":0.94,"nu":2.91,"nl":-0.97,"bu":2.12,"bl":-0.24,"sdn":0.99,"sdb":0.6},
{"t":2000,"data":0.25,"nobreak":1.2,"break":1.17,"nu":3.16,"nl":-0.76,"bu":2.37,"bl":-0.03,"sdn":1.0,"sdb":0.61},
{"t":2000.25,"data":1.6,"nobreak":0.76,"break":0.73,"nu":2.72,"nl":-1.2,"bu":1.93,"bl":-0.47,"sdn":1.0,"sdb":0.61},
{"t":2000.5,"data":-0.1,"nobreak":1.03,"break":1.0,"nu":2.99,"nl":-0.93,"bu":2.22,"bl":-0.22,"sdn":1.0,"sdb":0.62},
{"t":2000.75,"data":0.5,"nobreak":0.63,"break":0.6,"nu":2.59,"nl":-1.33,"bu":1.8,"bl":-0.6,"sdn":1.0,"sdb":0.61},
{"t":2001,"data":-0.15,"nobreak":0.62,"break":0.59,"nu":2.58,"nl":-1.34,"bu":1.81,"bl":-0.63,"sdn":1.0,"sdb":0.62},
{"t":2001.25,"data":0.3,"nobreak":0.48,"break":0.45,"nu":2.44,"nl":-1.48,"bu":1.68,"bl":-0.78,"sdn":1.0,"sdb":0.63},
{"t":2001.5,"data":-0.35,"nobreak":0.55,"break":0.52,"nu":2.49,"nl":-1.39,"bu":1.79,"bl":-0.75,"sdn":0.99,"sdb":0.65},
{"t":2001.75,"data":0.4,"nobreak":0.38,"break":0.35,"nu":2.32,"nl":-1.56,"bu":1.58,"bl":-0.88,"sdn":0.99,"sdb":0.63},
{"t":2002,"data":1.2,"nobreak":0.56,"break":0.53,"nu":2.5,"nl":-1.38,"bu":1.75,"bl":-0.69,"sdn":0.99,"sdb":0.62},
{"t":2002.25,"data":0.55,"nobreak":0.92,"break":0.89,"nu":2.86,"nl":-1.02,"bu":2.09,"bl":-0.31,"sdn":0.99,"sdb":0.61},
{"t":2002.5,"data":1.0,"nobreak":0.79,"break":0.76,"nu":2.73,"nl":-1.15,"bu":1.96,"bl":-0.44,"sdn":0.99,"sdb":0.61},
{"t":2002.75,"data":0.35,"nobreak":0.86,"break":0.83,"nu":2.8,"nl":-1.08,"bu":2.03,"bl":-0.37,"sdn":0.99,"sdb":0.61},
{"t":2003,"data":0.35,"nobreak":0.7,"break":0.67,"nu":2.62,"nl":-1.22,"bu":1.85,"bl":-0.51,"sdn":0.98,"sdb":0.6},
{"t":2003.25,"data":0.8,"nobreak":0.63,"break":0.6,"nu":2.55,"nl":-1.29,"bu":1.78,"bl":-0.58,"sdn":0.98,"sdb":0.6},
{"t":2003.5,"data":2.0,"nobreak":0.77,"break":0.74,"nu":2.69,"nl":-1.15,"bu":1.9,"bl":-0.42,"sdn":0.98,"sdb":0.59}
]},
"concat": [
{
  "width": 659, "height": 152,
  "title": "A. Data and nobreak model predictive mean and higest predictive density intervals",
  "data": {"name": "gdp"},
  "layer": [
    {"mark": {"type": "line", "strokeDash": [5, 2, 1, 2], "strokeWidth": 0.8, "color": "#333"},
     "encoding": {
       "x": {"field": "t", "type": "quantitative", "scale": {"domain": [1947.75, 2003.5], "nice": false, "zero": false}, "axis": {"orient": "bottom", "values": [1950, 1960, 1970, 1980, 1990, 2000], "format": "d", "minExtent": 20, "maxExtent": 20}},
       "y": {"field": "nu", "type": "quantitative", "scale": {"domain": [-4, 6], "nice": false, "zero": false}, "axis": {"orient": "left", "values": [-2, 0, 2, 4], "labels": false}}}},
    {"mark": {"type": "line", "strokeDash": [5, 2, 1, 2], "strokeWidth": 0.8, "color": "#333"},
     "encoding": {
       "x": {"field": "t", "type": "quantitative", "axis": {"orient": "top", "values": [1950, 1960, 1970, 1980, 1990, 2000], "labels": false}},
       "y": {"field": "nl", "type": "quantitative", "axis": {"orient": "right", "values": [-2, 0, 2, 4], "labels": false}}}},
    {"mark": {"type": "line", "strokeDash": [1, 2], "strokeWidth": 0.9, "color": "#222"},
     "encoding": {"x": {"field": "t", "type": "quantitative", "axis": null}, "y": {"field": "nobreak", "type": "quantitative", "axis": null}}},
    {"mark": {"type": "line", "strokeWidth": 0.9, "color": "#111"},
     "encoding": {"x": {"field": "t", "type": "quantitative", "axis": null}, "y": {"field": "data", "type": "quantitative", "axis": null}}}
  ]
},
{
  "width": 659, "height": 152,
  "title": "B. Data and break model predictive mean and higest predictive density intervals",
  "data": {"name": "gdp"},
  "layer": [
    {"mark": {"type": "line", "strokeDash": [5, 2, 1, 2], "strokeWidth": 0.8, "color": "#333"},
     "encoding": {
       "x": {"field": "t", "type": "quantitative", "scale": {"domain": [1947.75, 2003.5], "nice": false, "zero": false}, "axis": {"orient": "bottom", "values": [1950, 1960, 1970, 1980, 1990, 2000], "format": "d", "minExtent": 20, "maxExtent": 20}},
       "y": {"field": "bu", "type": "quantitative", "scale": {"domain": [-4, 6], "nice": false, "zero": false}, "axis": {"orient": "left", "values": [-2, 0, 2, 4], "labels": false}}}},
    {"mark": {"type": "line", "strokeDash": [5, 2, 1, 2], "strokeWidth": 0.8, "color": "#333"},
     "encoding": {
       "x": {"field": "t", "type": "quantitative", "axis": {"orient": "top", "values": [1950, 1960, 1970, 1980, 1990, 2000], "labels": false}},
       "y": {"field": "bl", "type": "quantitative", "axis": {"orient": "right", "values": [-2, 0, 2, 4], "labels": false}}}},
    {"mark": {"type": "line", "strokeDash": [1, 2], "strokeWidth": 0.9, "color": "#222"},
     "encoding": {"x": {"field": "t", "type": "quantitative", "axis": null}, "y": {"field": "break", "type": "quantitative", "axis": null}}},
    {"mark": {"type": "line", "strokeWidth": 0.9, "color": "#111"},
     "encoding": {"x": {"field": "t", "type": "quantitative", "axis": null}, "y": {"field": "data", "type": "quantitative", "axis": null}}}
  ]
},
{
  "width": 659, "height": 152,
  "title": "C. Data and predictive means",
  "data": {"name": "gdp"},
  "layer": [
    {"mark": {"type": "line", "strokeWidth": 0.9, "color": "#111"},
     "encoding": {
       "x": {"field": "t", "type": "quantitative", "scale": {"domain": [1947.75, 2003.5], "nice": false, "zero": false}, "axis": {"orient": "bottom", "values": [1950, 1960, 1970, 1980, 1990, 2000], "format": "d", "minExtent": 20, "maxExtent": 20}},
       "y": {"field": "data", "type": "quantitative", "scale": {"domain": [-4, 6], "nice": false, "zero": false}, "axis": {"orient": "left", "values": [-2, 0, 2, 4], "labels": false}},
       "strokeDash": {"datum": "data", "type": "nominal", "scale": {"domain": ["data", "nobreak", "break"], "range": [[1, 0], [4, 2], [1, 2]]},
         "legend": {"orient": "none", "legendX": 623, "legendY": 5.7, "title": null, "symbolType": "M-3,0H3", "symbolSize": 130, "symbolStrokeWidth": 1, "symbolStrokeColor": "#222", "symbolFillColor": "transparent", "labelAlign": "right", "labelOffset": -29.4, "labelFontSize": 11.5, "labelColor": "#111", "rowPadding": 0, "padding": 0}}}},
    {"mark": {"type": "line", "strokeWidth": 0.9, "color": "#222"},
     "encoding": {
       "x": {"field": "t", "type": "quantitative", "axis": {"orient": "top", "values": [1950, 1960, 1970, 1980, 1990, 2000], "labels": false}},
       "y": {"field": "nobreak", "type": "quantitative", "axis": {"orient": "right", "values": [-2, 0, 2, 4], "labels": false}},
       "strokeDash": {"datum": "nobreak", "type": "nominal"}}},
    {"mark": {"type": "line", "strokeWidth": 0.9, "color": "#222"},
     "encoding": {
       "x": {"field": "t", "type": "quantitative", "axis": null},
       "y": {"field": "break", "type": "quantitative", "axis": null},
       "strokeDash": {"datum": "break", "type": "nominal"}}}
  ]
},
{
  "width": 666, "height": 152,
  "title": "D. predictive standard deviations",
  "data": {"name": "gdp"},
  "layer": [
    {"mark": {"type": "line", "strokeWidth": 0.9, "color": "#111"},
     "encoding": {
       "x": {"field": "t", "type": "quantitative", "scale": {"domain": [1947.75, 2003.5], "nice": false, "zero": false}, "axis": {"orient": "bottom", "values": [1950, 1960, 1970, 1980, 1990, 2000], "format": "d", "minExtent": 20, "maxExtent": 20}},
       "y": {"field": "sdn", "type": "quantitative", "scale": {"domain": [0.5, 2.0], "nice": false, "zero": false}, "axis": {"orient": "left", "values": [1.0, 1.5], "labels": false}},
       "strokeDash": {"datum": "nobreak", "type": "nominal", "scale": {"domain": ["nobreak", "break"], "range": [[1, 0], [4, 2]]},
         "legend": {"orient": "none", "legendX": 629, "legendY": 5.6, "title": null, "symbolType": "M-3,0H3", "symbolSize": 130, "symbolStrokeWidth": 1, "symbolStrokeColor": "#222", "symbolFillColor": "transparent", "labelAlign": "right", "labelOffset": -29.4, "labelFontSize": 11.5, "labelColor": "#111", "rowPadding": 0, "padding": 0}}}},
    {"mark": {"type": "line", "strokeWidth": 0.9, "color": "#222"},
     "encoding": {
       "x": {"field": "t", "type": "quantitative", "axis": {"orient": "top", "values": [1950, 1960, 1970, 1980, 1990, 2000], "labels": false}},
       "y": {"field": "sdb", "type": "quantitative", "axis": {"orient": "right", "values": [1.0, 1.5], "labels": false, "minExtent": 9, "maxExtent": 9}},
       "strokeDash": {"datum": "break", "type": "nominal"}}}
  ]
}
]
}
